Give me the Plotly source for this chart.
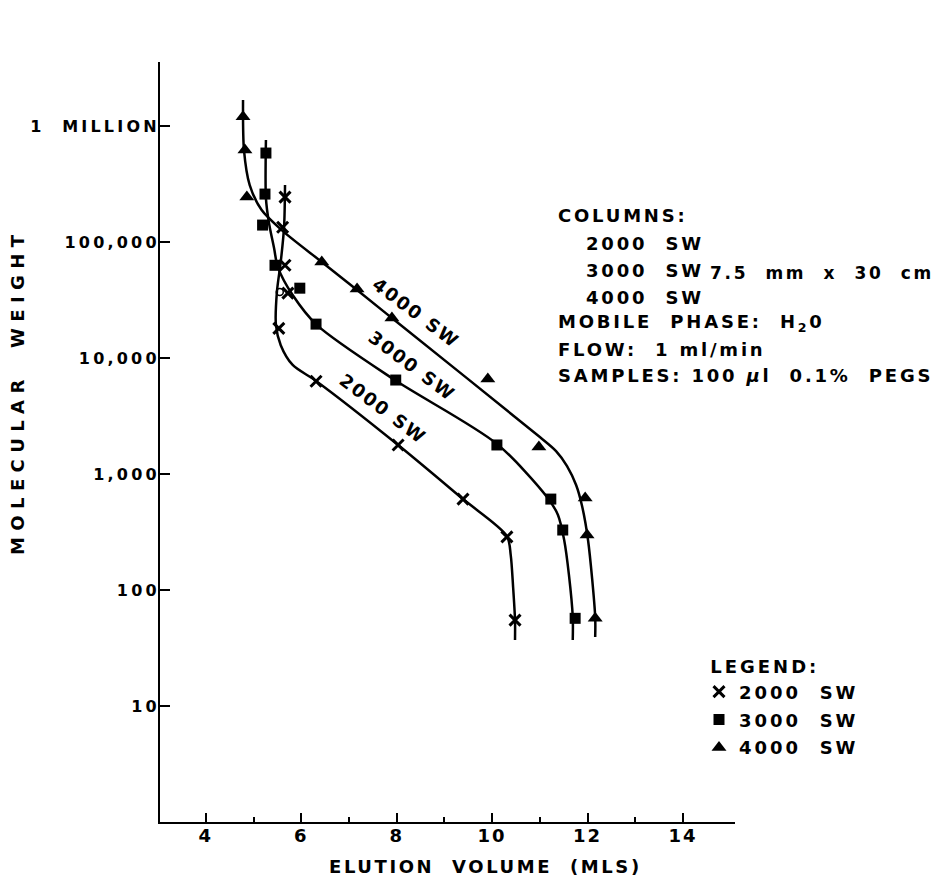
import plotly.graph_objects as go

# ---------------- data ----------------
# marker points: elution volume (mL) and molecular weight
x_2000 = [5.66, 5.61, 5.66, 5.72, 5.53, 6.31, 8.03, 9.39, 10.31, 10.48]
y_2000 = [244000, 134000, 63000, 36300, 18000, 6300, 1780, 608, 287, 55]

x_3000 = [5.26, 5.24, 5.19, 5.45, 5.97, 6.31, 7.98, 10.10, 11.23, 11.48, 11.74]
y_3000 = [585000, 259000, 140000, 63000, 40000, 19600, 6460, 1780, 608, 329, 57]

x_4000 = [4.78, 4.82, 4.86, 6.43, 7.17, 7.90, 9.91, 10.98, 11.95, 11.99, 12.16]
y_4000 = [1200000, 621000, 244000, 67300, 39400, 22100, 6600, 1710, 621, 298, 57]

# open circle point
x_open = [5.55]
y_open = [37000]

# hand-drawn calibration curves (smooth lines through the points)
curve_2000_x = [5.66, 5.64, 5.57, 5.49, 5.47, 5.57, 5.82, 6.31, 8.03, 9.39, 10.31, 10.39, 10.44, 10.48, 10.48]
curve_2000_y = [310000, 134600, 67300, 37100, 19200, 12900, 8710, 6340, 1778, 608, 292, 200, 106, 55, 37]

curve_3000_x = [5.26, 5.26, 5.32, 5.43, 5.51, 5.82, 6.33, 7.96, 10.10, 11.15, 11.38, 11.51, 11.61, 11.69, 11.69]
curve_3000_y = [757000, 239000, 149000, 88700, 60800, 34900, 19200, 6460, 1820, 634, 444, 270, 135, 58.5, 37]

curve_4000_x = [4.78, 4.80, 4.92, 5.17, 5.59, 6.43, 7.17, 7.90, 11.00, 11.34, 11.57, 11.76, 11.88, 12.01, 12.16, 12.16]
curve_4000_y = [1675000, 621000, 310000, 188700, 126800, 67300, 38600, 22100, 2085, 1578, 1172, 804, 541, 270, 58.5, 39.4]

# axis ticks
x_tickvals = [4, 6, 8, 10, 12, 14]
x_ticktext = ["4", "6", "8", "10", "12", "14"]
x_minorvals = [5, 7, 9, 11, 13]
y_tickvals = [10, 100, 1000, 10000, 100000, 1000000]
y_ticktext = ["10", "100", "1,000", "10,000", "100,000", "1\u00a0\u00a0MILLION"]

series_names = ["2000\u00a0\u00a0SW", "3000\u00a0\u00a0SW", "4000\u00a0\u00a0SW"]

info_lines = [
    "COLUMNS:",
    "2000\u00a0\u00a0SW",
    "3000\u00a0\u00a0SW",
    "4000\u00a0\u00a0SW",
    "MOBILE\u00a0\u00a0PHASE:\u00a0\u00a0H<sub>2</sub>0",
    "FLOW:\u00a0\u00a01\u00a0ml/min",
    "SAMPLES:\u00a0100\u00a0<i>\u00b5</i>l\u00a0\u00a00.1%\u00a0\u00a0PEGS",
]
size_text = "7.5\u00a0\u00a0mm\u00a0\u00a0x\u00a0\u00a030\u00a0\u00a0cm"
curve_labels = ["2000\u00a0SW", "3000\u00a0SW", "4000\u00a0SW"]

# ---------------- layout geometry ----------------
PAGE_OFF = 8                     # default body margin of the html page
W, H = 944 - PAGE_OFF, 887 - PAGE_OFF
PLOT_L, PLOT_R, PLOT_T, PLOT_B = 160, 735, 62, 822   # plot area in page pixels
ML, MT = PLOT_L - PAGE_OFF, PLOT_T - PAGE_OFF
MR, MB = 944 - PLOT_R, 887 - PLOT_B
FONT = "DejaVu Sans"


def pxx(p):
    return (p - PLOT_L) / (PLOT_R - PLOT_L)


def pxy(p):
    return (PLOT_B - p) / (PLOT_B - PLOT_T)


def ls(text, s):
    return f'<span style="letter-spacing:{s}px">{text}</span>'


fig = go.Figure()

line_style = dict(color="black", width=2.5, shape="spline", smoothing=0.8)
for cx, cy in [(curve_2000_x, curve_2000_y), (curve_3000_x, curve_3000_y), (curve_4000_x, curve_4000_y)]:
    fig.add_trace(go.Scatter(x=cx, y=cy, mode="lines", line=line_style,
                             showlegend=False, hoverinfo="skip"))

fig.add_trace(go.Scatter(x=x_2000, y=y_2000, mode="markers", name=ls(series_names[0], 3),
                         legendgroup="a",
                         marker=dict(symbol="x-thin", size=11, color="black",
                                     line=dict(color="black", width=3))))
fig.add_trace(go.Scatter(x=x_3000, y=y_3000, mode="markers", name=ls(series_names[1], 3),
                         legendgroup="b",
                         marker=dict(symbol="square", size=11, color="black")))
fig.add_trace(go.Scatter(x=x_4000, y=y_4000, mode="markers", name=ls(series_names[2], 3),
                         legendgroup="c",
                         marker=dict(symbol="triangle-up", size=13, color="black")))
fig.add_trace(go.Scatter(x=x_open, y=y_open, mode="markers", showlegend=False,
                         marker=dict(symbol="circle-open", size=7, color="black",
                                     line=dict(color="black", width=1.5))))

annotations = []
# info block
info_pos = [(556, 215), (584, 244), (584, 270), (584, 297), (556, 323), (556, 349), (556, 376)]
for txt, (xp, yp) in zip(info_lines, info_pos):
    annotations.append(dict(text=ls(txt, 2.8), x=pxx(xp), y=pxy(yp), xref="paper", yref="paper",
                            xanchor="left", yanchor="middle", showarrow=False,
                            font=dict(size=18, family=FONT, color="black", weight="bold")))
annotations.append(dict(text=ls(size_text, 2.7), x=pxx(708), y=pxy(273), xref="paper", yref="paper",
                        xanchor="left", yanchor="middle", showarrow=False,
                        font=dict(size=17, family=FONT, color="black", weight="bold")))

# curve labels
for txt, (xp, yp) in zip(curve_labels, [(383, 408), (412, 365), (416, 312)]):
    annotations.append(dict(text=ls(txt, 2), x=pxx(xp), y=pxy(yp), xref="paper", yref="paper",
                            xanchor="center", yanchor="middle", showarrow=False, textangle=37,
                            font=dict(size=18, family=FONT, color="black", weight="bold")))

# axis titles
annotations.append(dict(text=ls("ELUTION\u00a0\u00a0VOLUME\u00a0\u00a0(MLS)", 2.6), x=pxx(485), y=pxy(866),
                        xref="paper", yref="paper", xanchor="center", yanchor="middle", showarrow=False,
                        font=dict(size=18, family=FONT, color="black", weight="bold")))
annotations.append(dict(text=ls("MOLECULAR\u00a0\u00a0WEIGHT", 6.4), x=pxx(17), y=pxy(392),
                        xref="paper", yref="paper", xanchor="center", yanchor="middle", showarrow=False,
                        textangle=-90,
                        font=dict(size=18, family=FONT, color="black", weight="bold")))

fig.update_layout(
    width=W, height=H,
    margin=dict(l=ML, r=MR, t=MT, b=MB, autoexpand=False),
    paper_bgcolor="white", plot_bgcolor="white",
    font=dict(family=FONT, color="black", size=16),
    annotations=annotations,
    showlegend=True,
    legend=dict(x=pxx(699), y=pxy(650), xanchor="left", yanchor="top",
                title=dict(text=ls("\u00a0LEGEND:", 3), font=dict(size=18, family=FONT, weight="bold")),
                font=dict(size=18, family=FONT, color="black", weight="bold"),
                bgcolor="rgba(0,0,0,0)", tracegroupgap=1.5),
    xaxis=dict(range=[3.04, 15.09], showgrid=False, zeroline=False,
               showline=True, linecolor="black", linewidth=2,
               ticks="inside", ticklen=9, tickwidth=2, tickcolor="black",
               tickvals=x_tickvals, ticktext=[ls(t, 2) for t in x_ticktext],
               tickfont=dict(size=18, family=FONT, weight="bold"),
               ticklabelstandoff=-4,
               minor=dict(tickvals=x_minorvals, ticks="inside", ticklen=5, tickwidth=2, tickcolor="black"),
               automargin=False),
    yaxis=dict(type="log", range=[0, 6.552], showgrid=False, zeroline=False,
               showline=True, linecolor="black", linewidth=2,
               ticks="inside", ticklen=10, tickwidth=2, tickcolor="black",
               tickvals=y_tickvals, ticktext=[ls(t, 3.2) for t in y_ticktext],
               tickfont=dict(size=16, family=FONT, weight="bold"),
               ticklabelstandoff=-5,
               automargin=False),
)

fig.write_html("out.html")
